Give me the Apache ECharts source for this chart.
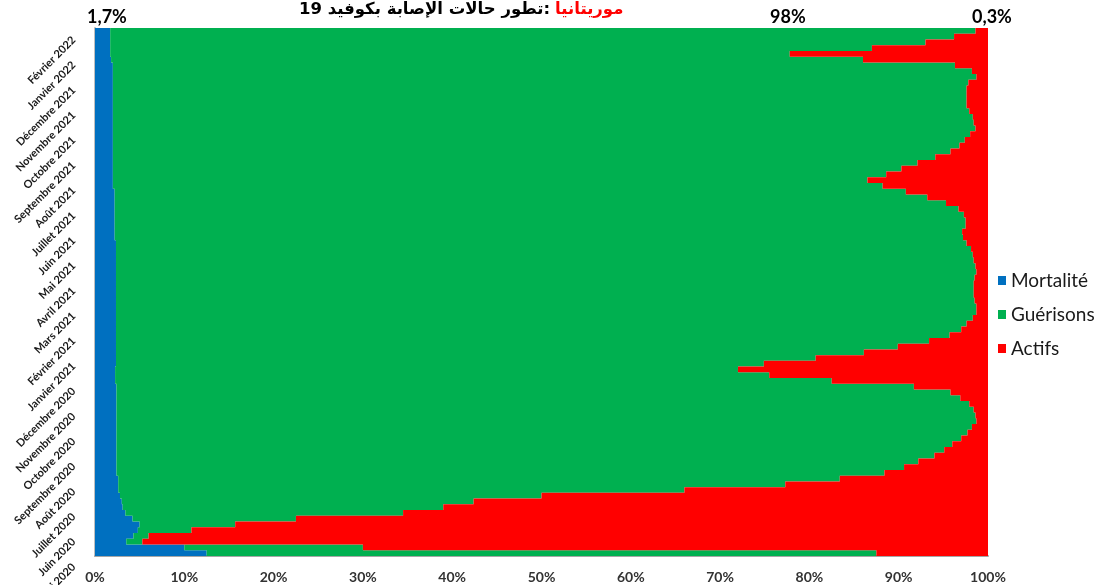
<!DOCTYPE html>
<html>
<head>
<meta charset="utf-8">
<script src="https://cdn.jsdelivr.net/npm/echarts@6/dist/echarts.min.js"></script>
<style>
html,body{margin:0;padding:0;background:#fff;}
#c{width:1107px;height:585px;}
</style>
</head>
<body>
<div id="c"></div>
<script>
// Weekly rows, oldest (bottom) first
const categories = [
 '2020-05-06','2020-05-13','2020-05-20','2020-05-27',
 '2020-06-03','2020-06-10','2020-06-17','2020-06-24',
 '2020-07-01','2020-07-08','2020-07-15','2020-07-22','2020-07-29',
 '2020-08-05','2020-08-12','2020-08-19','2020-08-26',
 '2020-09-02','2020-09-09','2020-09-16','2020-09-23','2020-09-30',
 '2020-10-07','2020-10-14','2020-10-21','2020-10-28',
 '2020-11-04','2020-11-11','2020-11-18','2020-11-25',
 '2020-12-02','2020-12-09','2020-12-16','2020-12-23','2020-12-30',
 '2021-01-06','2021-01-13','2021-01-20','2021-01-27',
 '2021-02-03','2021-02-10','2021-02-17','2021-02-24',
 '2021-03-03','2021-03-10','2021-03-17','2021-03-24','2021-03-31',
 '2021-04-07','2021-04-14','2021-04-21','2021-04-28',
 '2021-05-05','2021-05-12','2021-05-19','2021-05-26',
 '2021-06-02','2021-06-09','2021-06-16','2021-06-23','2021-06-30',
 '2021-07-07','2021-07-14','2021-07-21','2021-07-28',
 '2021-08-04','2021-08-11','2021-08-18','2021-08-25',
 '2021-09-01','2021-09-08','2021-09-15','2021-09-22','2021-09-29',
 '2021-10-06','2021-10-13','2021-10-20','2021-10-27',
 '2021-11-03','2021-11-10','2021-11-17','2021-11-24',
 '2021-12-01','2021-12-08','2021-12-15','2021-12-22','2021-12-29',
 '2022-01-05','2022-01-12','2022-01-19','2022-01-26',
 '2022-02-02'
];

// Shares in % (bottom row first)
const mortalite = [
 12.5,10,3.5,4.3,4.8,5.0,4.2,3.4,3.1,3.0,2.8,2.6,2.6,2.6,2.4,2.4,2.4,2.4,2.4,2.4,
 2.4,2.4,2.4,2.4,2.4,2.4,2.4,2.4,2.4,2.4,
 2.25,2.25,2.25,
 2.35,2.35,2.35,2.35,2.35,2.35,2.35,2.35,2.35,2.35,2.35,2.35,2.35,2.35,2.35,2.35,2.35,2.35,2.35,2.35,2.35,2.35,
 2.2,2.2,2.2,2.2,2.2,2.2,2.2,2.2,2.2,
 2.0,2.0,2.0,2.0,2.0,2.0,2.0,2.0,2.0,2.0,2.0,2.0,2.0,2.0,2.0,2.0,2.0,2.0,2.0,2.0,2.0,2.0,
 1.8,1.7,1.7,1.7,1.7,1.7
];
const guerisons = [
 75,20,1.8,1.7,6,10.7,18.3,31.1,35.9,39.4,47.2,63.4,74.7,80.8,86,88.2,89.8,91.6,92.7,93.6,
 94.6,95.3,95.8,96.3,96.2,96,95.5,94.5,93.4,89.3,
 80.25,73.25,69.75,
 72.55,78.35,83.75,87.55,91.05,93.35,94.65,95.25,95.95,96.35,96.35,96.15,96.05,96.05,96.05,96.15,96.35,96.25,96.05,95.95,95.75,95.25,
 95,94.9,95.3,95.3,95.1,94.5,93.1,91,88.6,
 86.2,84.5,86.6,88.3,90.1,92.1,93.8,94.8,95.4,96,96.6,96.4,96.3,95.9,95.6,95.6,95.6,95.6,95.8,96.7,96.2,94.3,
 84.2,76.1,85.3,91.3,94.5,96.9
];
const actifs = [
 12.5,70,94.7,94,89.2,84.3,77.5,65.5,61,57.6,50,34,22.7,16.6,11.6,9.4,7.8,6,4.9,4,
 3,2.3,1.8,1.3,1.4,1.6,2.1,3.1,4.2,8.3,
 17.5,24.5,28,
 25.1,19.3,13.9,10.1,6.6,4.3,3,2.4,1.7,1.3,1.3,1.5,1.6,1.6,1.6,1.5,1.3,1.4,1.6,1.7,1.9,2.4,
 2.8,2.9,2.5,2.5,2.7,3.3,4.7,6.8,9.2,
 11.8,13.5,11.4,9.7,7.9,5.9,4.2,3.2,2.6,2,1.4,1.6,1.7,2.1,2.4,2.4,2.4,2.4,2.2,1.3,1.8,3.7,
 14,22.2,13,7,3.8,1.4
];

// Month tick labels, one per month from the axis start (May 2020) to its end (Feb 2022)
const monthTickLabels = [
 'Mai 2020','Juin 2020','Juillet 2020','Août 2020','Septembre 2020','Octobre 2020',
 'Novembre 2020','Décembre 2020','Janvier 2021','Février 2021','Mars 2021','Avril 2021',
 'Mai 2021','Juin 2021','Juillet 2021','Août 2021','Septembre 2021','Octobre 2021',
 'Novembre 2021','Décembre 2021','Janvier 2022','Février 2022'
];
const xTicks = [0,10,20,30,40,50,60,70,80,90,100];
const topNotes = ['1,7%','98%','0,3%'];
const titleMain = 'تطور حالات الإصابة بكوفيد 19:';
const titleCountry = 'موريتانيا';
const seriesNames = ['Mortalité','Guérisons','Actifs'];
const colors = ['#0070C0','#00B050','#FF0000'];

const chart = echarts.init(document.getElementById('c'), null, {renderer:'canvas'});
const mk = (name, data, color) => ({
  name, type:'bar', stack:'total', data,
  yAxisIndex:0,
  barCategoryGap:'0%',
  large:true, largeThreshold:10,
  itemStyle:{color},
  emphasis:{disabled:true},
  silent:true
});
chart.setOption({
  animation:false,
  color: colors,
  title:{
    text:'{a|' + titleMain + '} {b|' + titleCountry + '}',
    left: 294, top: -4,
    textStyle:{
      rich:{
        a:{fontFamily:'DejaVu Sans', fontWeight:'bold', fontSize:16.5, color:'#000'},
        b:{fontFamily:'DejaVu Sans', fontWeight:'bold', fontSize:16.5, color:'#FF0000'}
      }
    }
  },
  legend:{
    orient:'vertical', left:993, top:266, padding:5,
    itemWidth:8, itemHeight:9, itemGap:15,
    icon:'rect',
    textStyle:{fontFamily:'Lato', fontSize:19, color:'#1a1a1a'},
    data: seriesNames
  },
  grid:{left:95, right:119, top:28, bottom:29, containLabel:false, outerBoundsMode:'none'},
  xAxis:{
    type:'value', min:0, max:100, interval:10,
    axisLine:{show:true, lineStyle:{color:'#a6a6a6', width:2}},
    axisTick:{show:false},
    splitLine:{show:false},
    axisLabel:{
      formatter: v => (xTicks.indexOf(v) >= 0 ? v + '%' : ''),
      fontFamily:'Lato', fontWeight:'bold', fontSize:14, color:'#333', margin:14
    }
  },
  yAxis:[
    {
      type:'category', data:categories,
      axisLine:{show:true, lineStyle:{color:'#bfbfbf', width:2}},
      axisTick:{show:false},
      axisLabel:{show:false},
      splitLine:{show:false}
    },
    {
      type:'value', position:'left', min:0, max:21.04, interval:1,
      axisLine:{show:false}, axisTick:{show:false}, splitLine:{show:false},
      axisLabel:{
        rotate:45,
        align:'right', verticalAlign:'middle',
        padding:[26,13,0,0],
        margin:12,
        fontFamily:'Lato', fontWeight:'bold', fontSize:11, color:'#1a1a1a',
        showMaxLabel:false,
        formatter:(v) => (monthTickLabels[v] !== undefined && Number.isInteger(v) ? monthTickLabels[v] : '')
      }
    }
  ],
  graphic:[
    {type:'text', left:87, top:8, style:{text:topNotes[0], font:'bold 18px Lato', fill:'#000'}},
    {type:'text', left:770, top:8, style:{text:topNotes[1], font:'bold 18px Lato', fill:'#000'}},
    {type:'text', left:972, top:8, style:{text:topNotes[2], font:'bold 18px Lato', fill:'#000'}}
  ],
  series:[
    mk(seriesNames[0], mortalite, colors[0]),
    mk(seriesNames[1], guerisons, colors[1]),
    mk(seriesNames[2], actifs, colors[2])
  ]
});
</script>
</body>
</html>
